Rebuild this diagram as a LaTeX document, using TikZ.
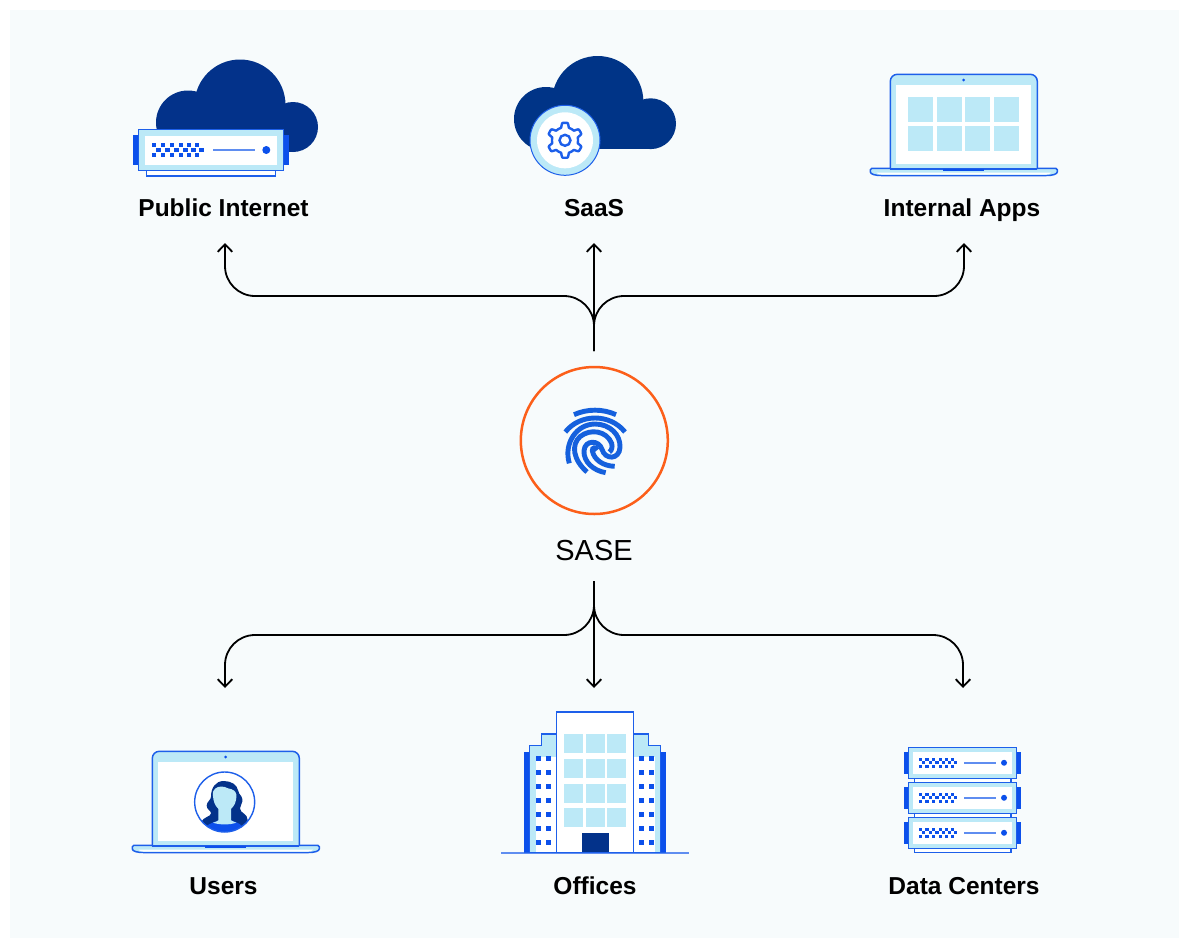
\documentclass[tikz,border=0pt]{standalone}
\usepackage{fontspec}
\setmainfont{Liberation Sans}
\usetikzlibrary{arrows.meta}
\definecolor{pagebg}{HTML}{F7FBFC}
\definecolor{navy}{HTML}{03328A}
\definecolor{saasnavy}{HTML}{003487}
\definecolor{vivid}{HTML}{0C50EB}
\definecolor{edge}{HTML}{1D5FEA}
\definecolor{pale}{HTML}{BCE9F7}
\definecolor{softline}{HTML}{5F8DF0}
\definecolor{print}{HTML}{1560DD}
\definecolor{hubring}{HTML}{FC5F1A}
\tikzset{
  x=1pt,y=-1pt,
  flow/.style={draw=black,line width=1.8pt,rounded corners=30pt,-{Straight Barb[length=7.5pt,width=14.5pt]}},
  caption/.style={inner sep=0pt,anchor=base,font=\fontsize{24.5}{24.5}\selectfont\bfseries,text=black},
  hub/.style={circle,draw=hubring,line width=2.5pt,minimum size=147pt,inner sep=0pt},
  hubtext/.style={inner sep=0pt,anchor=base,font=\fontsize{29}{30}\selectfont,text=black},
  outline/.style={draw=edge,line width=1.5pt},
  ridge/.style={draw=print,line width=4.9pt,line cap=butt},
}
\newcommand{\serverIcon}[4]{%
  \begin{scope}[shift={(#1,#2)},scale=#3]
    \fill[vivid] (-5.7,5.7) rectangle (0,35.7);
    \fill[vivid] (144.6,5.7) rectangle (150.3,35.7);
    \draw[outline,fill=white,line width=#4] (8,41.4) rectangle (137,46.7);
    \draw[outline,fill=pale,line width=#4] (0,0) rectangle (144.6,41.4);
    \fill[white] (6.3,6.7) rectangle (138.3,35.7);
    \foreach \px in {13.3,22.3,31.3,40.3,48.3,56.3} {
      \fill[vivid] (\px,13.85) rectangle +(4.3,4.3);
      \fill[vivid] (\px,23.25) rectangle +(4.3,4.3);
      \fill[vivid] (\px+4.3,18.55) rectangle +(4.3,4.3);
    }
    \draw[softline,line width=2pt] (74.3,20.7) -- (116.3,20.7);
    \fill[vivid] (127.6,20.7) circle[radius=4];
  \end{scope}}
\newcommand{\laptopIcon}[2]{%
  \begin{scope}[shift={(#1,#2)}]
    \draw[outline,fill=pale] (-20,95.5) .. controls (-20,94.5) and (-19.5,94) .. (-18.5,94) -- (165.5,94) .. controls (166.5,94) and (167,94.5) .. (167,95.5) -- (167,97.5)
       .. controls (167,100) and (162,101.2) .. (156,101.2) -- (-9,101.2) .. controls (-15,101.2) and (-20,100) .. (-20,97.5) -- cycle;
    \fill[white] (-14,98.2) -- (161,98.2) .. controls (160,99.8) and (158,100.4) .. (155,100.4) -- (-8,100.4) .. controls (-11,100.4) and (-13,99.8) .. (-14,98.2) -- cycle;
    \draw[outline,fill=pale,rounded corners=7pt] (0,94.7) -- (0,0) -- (147,0) -- (147,94.7);
    \draw[outline] (0,94.7) -- (147,94.7);
    \fill[white] (5.7,10.7) rectangle (140.7,89.7);
    \fill[vivid] (53,94.7) rectangle (93.7,96.9);
    \fill[vivid] (73.4,5.7) circle[radius=1.5];
  \end{scope}}
\begin{document}
\begin{tikzpicture}
\useasboundingbox (0,0) rectangle (1189,948);
\fill[white] (0,0) rectangle (1189,948);
\fill[pagebg] (10,10) rectangle (1179,938);

% ---------- Public Internet
\fill[navy] (240,105) circle[radius=45.5];
\fill[navy] (188,122.5) circle[radius=32];
\fill[navy] (293,127) circle[radius=25];
\fill[navy] (188,105) rectangle (293,152);
\serverIcon{138.7}{129.3}{1}{1.5pt}

% ---------- SaaS
\fill[saasnavy] (597.7,101.7) circle[radius=45.7];
\fill[saasnavy] (546,119) circle[radius=32];
\fill[saasnavy] (650.6,123.7) circle[radius=25.4];
\fill[saasnavy] (546,100) rectangle (650.6,149.1);
\draw[draw=edge,fill=pale,line width=1pt] (565,140.3) circle[radius=35];
\fill[white] (565,140.3) circle[radius=28];
\begin{scope}[shift={(565,140.3)}]
  \draw[draw=edge,line width=2.4pt,line join=round]
    plot[domain=0:358,samples=180] (\x:{17.5-4.5*min(1,max(0,(abs(mod(\x,60)-30)-9)/8))}) -- cycle;
  \draw[draw=edge,line width=2.4pt] (0,0) circle[radius=5.5];
\end{scope}

% ---------- Internal Apps
\laptopIcon{890.3}{74.3}
\foreach \tx in {908,937,965,994} \foreach \ty in {97,126}
  \fill[pale] (\tx,\ty) rectangle +(25,25);

% ---------- Fingerprint
\begin{scope}[shift={(510,360)},scale=1/3]
  \draw[ridge] (192,164) .. controls (232,146) and (278,146) .. (318,164);
  \draw[ridge] (166,216) .. controls (210,160) and (300,160) .. (345,216);
  \draw[ridge] (178,310) .. controls (160,250) and (200,192) .. (255,192)
     .. controls (300,192) and (332,225) .. (330,262)
     .. controls (328,300) and (285,300) .. (276,268)
     .. controls (268,240) and (225,238) .. (222,272)
     .. controls (220,305) and (250,332) .. (287,338);
  \draw[ridge] (231,336) .. controls (190,300) and (182,255) .. (210,230)
     .. controls (240,205) and (290,212) .. (305,250)
     .. controls (308,262) and (305,272) .. (298,276);
  \draw[ridge] (314,319) .. controls (280,318) and (252,300) .. (247,272)
     .. controls (246,262) and (258,260) .. (262,270);
\end{scope}

% ---------- Users
\laptopIcon{152.3}{751.3}
\begin{scope}[shift={(125,745)},scale=1/3]
  \fill[white] (299,171) circle[radius=90];
  \begin{scope}
    \clip (299,171) circle[radius=90];
    \fill[navy] (296,108) .. controls (272,108) and (258,128) .. (258,155)
       .. controls (258,165) and (245,170) .. (245,182)
       .. controls (245,195) and (258,195) .. (258,205)
       .. controls (258,215) and (235,215) .. (228,232)
       -- (240,262) -- (358,262) -- (368,225)
       .. controls (368,205) and (345,205) .. (345,190)
       .. controls (345,180) and (354,175) .. (352,162)
       .. controls (350,150) and (342,150) .. (340,138)
       .. controls (336,118) and (318,108) .. (296,108) -- cycle;
    \fill[vivid] (228,262) .. controls (240,240) and (262,232) .. (282,226)
       -- (318,226) .. controls (336,232) and (352,236) .. (364,262) -- (364,280) -- (228,280) -- cycle;
    \fill[pale] (280,185) -- (318,185) -- (318,226)
       .. controls (326,230) and (330,232) .. (334,233)
       .. controls (315,240) and (283,240) .. (264,233)
       .. controls (270,232) and (276,229) .. (280,226) -- cycle;
    \fill[pale] (264,140) .. controls (270,126) and (285,122) .. (299,126)
       .. controls (312,134) and (328,128) .. (334,148)
       .. controls (336,174) and (322,198) .. (299,198)
       .. controls (276,198) and (262,174) .. (264,140) -- cycle;
  \end{scope}
  \draw[draw=edge,line width=1.4pt] (299,171) circle[radius=90];
\end{scope}

% ---------- Offices
\begin{scope}[shift={(495,705)},scale=1/3]
  \fill[vivid] (87,141) rectangle (105,443);
  \fill[vivid] (497,141) rectangle (513,443);
  \draw[outline,fill=pale] (103,443) -- (103,121) -- (140,121) -- (140,87) -- (185,87) -- (185,443) -- cycle;
  \draw[outline,fill=pale] (497,443) -- (497,121) -- (461,121) -- (461,87) -- (415,87) -- (415,443) -- cycle;
  \fill[white] (123,155) rectangle (185,441);
  \fill[white] (415,155) rectangle (480,441);
  \foreach \ry in {153,195,237,279,321,363,405} {
    \foreach \cx in {123,153,432,462} \fill[vivid] (\cx,\ry) rectangle +(15,15);
  }
  \draw[outline,fill=white] (185,443) -- (185,21) -- (415,21) -- (415,443);
  \foreach \cx in {207,273,336} \foreach \ry in {87,162,237,309}
    \fill[pale] (\cx,\ry) rectangle +(57,57);
  \fill[navy] (261,384) rectangle (342,443);
  \draw[draw=softline,line width=1.8pt] (18,443) -- (582,443);
  \draw[draw=edge,line width=1pt] (87,442.5) -- (513,442.5);
\end{scope}

% ---------- Data Centers
\serverIcon{908.7}{817.3}{.747}{1.3pt}
\serverIcon{908.7}{782.3}{.747}{1.3pt}
\serverIcon{908.7}{747.3}{.747}{1.3pt}

% ---------- Nodes
\node[hub] (sase) at (594.3,440.5) {};
\node[hubtext] (sasetext) at (594,560) {SASE};
\node[caption] (inet) at (223.5,216) {Public Internet};
\node[caption] (saas) at (594,216) {SaaS};
\node[caption] (apps) at (962,216) {Internal Apps};
\node[caption] (users) at (223.5,894) {Users};
\node[caption] (offices) at (595,894) {Offices};
\node[caption] (centers) at (964,894) {Data Centers};

% ---------- Connectors
\coordinate (upstart) at (594,351);
\coordinate (upbus) at (594,296);
\coordinate (upinet) at (225,243);
\coordinate (upsaas) at (594,243);
\coordinate (upapps) at (964,243);
\coordinate (downstart) at (594,581);
\coordinate (downbus) at (594,635);
\coordinate (downusers) at (225,688);
\coordinate (downoffices) at (594,688);
\coordinate (downcenters) at (963,688);

\draw[flow] (upstart) -- (upstart |- upbus) -- (upinet |- upbus) -- (upinet);
\draw[flow] (upstart) -- (upstart |- upbus) -- (upapps |- upbus) -- (upapps);
\draw[flow] (upstart) -- (upsaas);
\draw[flow] (downstart) -- (downstart |- downbus) -- (downusers |- downbus) -- (downusers);
\draw[flow] (downstart) -- (downstart |- downbus) -- (downcenters |- downbus) -- (downcenters);
\draw[flow] (downstart) -- (downoffices);
\end{tikzpicture}
\end{document}
